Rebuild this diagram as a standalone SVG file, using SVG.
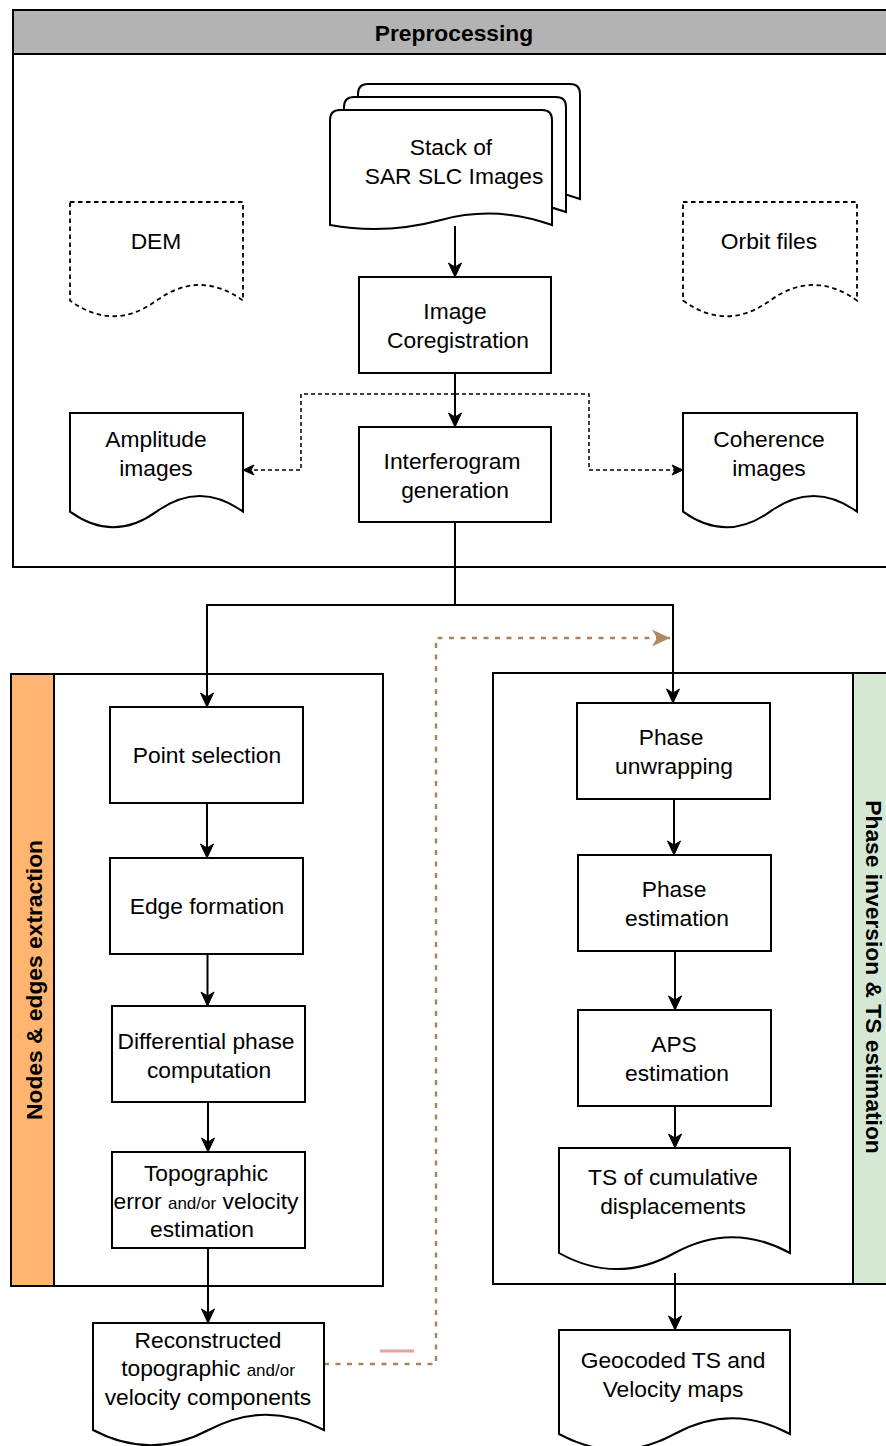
<svg xmlns="http://www.w3.org/2000/svg" width="886" height="1446" viewBox="0 0 886 1446">
<style>
.t{font-family:"Liberation Sans",Arial,Helvetica,sans-serif;font-size:22.8px;fill:#000;text-anchor:middle}
.b{font-weight:bold}
.s{font-size:17px}
.n{fill:#fff;stroke:#000;stroke-width:2}
.nd{fill:#fff;stroke:#000;stroke-width:1.8;stroke-dasharray:4.5 3.5}
.pan{fill:#fff;stroke:#000;stroke-width:2}
.c{fill:none;stroke:#000;stroke-width:2}
.cd{fill:none;stroke:#000;stroke-width:1.5;stroke-dasharray:4 3}
.cb{fill:none;stroke:#a9835c;stroke-width:2.4;stroke-dasharray:5 6.5}
</style>
<defs>
<marker id="arr" markerUnits="userSpaceOnUse" viewBox="0 0 16 16" refX="15" refY="8" markerWidth="16" markerHeight="16" orient="auto"><path d="M1,1.5 L15,8 L1,14.5 L5,8 Z" fill="#000" stroke="#000" stroke-width="1"/></marker>
<marker id="arrs" markerUnits="userSpaceOnUse" viewBox="0 0 13 13" refX="12" refY="6.5" markerWidth="13" markerHeight="13" orient="auto"><path d="M1,1.5 L12,6.5 L1,11.5 L4,6.5 Z" fill="#000" stroke="#000" stroke-width="1"/></marker>
<marker id="arrb" markerUnits="userSpaceOnUse" viewBox="0 0 18 18" refX="18" refY="9" markerWidth="18" markerHeight="18" orient="auto"><path d="M0,0.5 L18,9 L0,17.5 L5,9 Z" fill="#b08a63"/></marker>
</defs>

<g id="preprocessing-panel">
<rect class="pan" x="13" y="10" width="880" height="557"/>
<rect x="13" y="10" width="880" height="44" fill="#b3b3b3" stroke="#000" stroke-width="2"/>
<text class="t b" x="454" y="41">Preprocessing</text>
</g>

<g id="nodes-edges-panel">
<rect class="pan" x="11" y="674" width="372" height="612"/>
<rect x="11" y="674" width="43" height="612" fill="#ffb570" stroke="#000" stroke-width="2"/>
<text class="t b" transform="translate(34,980) rotate(-90)" x="0" y="8">Nodes &amp; edges extraction</text>
</g>

<g id="phase-inversion-panel">
<rect class="pan" x="493" y="673" width="400" height="611"/>
<rect x="853" y="673" width="40" height="611" fill="#d5e8d4" stroke="#000" stroke-width="2"/>
<text class="t b" transform="translate(874,977) rotate(90)" x="0" y="8">Phase inversion &amp; TS estimation</text>
</g>

<g id="connectors">
<path class="c" d="M455,226 L455,277" marker-end="url(#arr)"/>
<path class="c" d="M455,373 L455,427" marker-end="url(#arr)"/>
<path class="cd" d="M455,394 L301,394 L301,470 L243,470" marker-end="url(#arrs)"/>
<path class="cd" d="M455,394 L589,394 L589,470 L683,470" marker-end="url(#arrs)"/>
<path class="c" d="M455,522 L455,605 L207,605 L207,707" marker-end="url(#arr)"/>
<path class="c" d="M455,605 L673,605 L673,703" marker-end="url(#arr)"/>
<path class="c" d="M207,803 L207,858" marker-end="url(#arr)"/>
<path class="c" d="M207.5,954 L207.5,1006" marker-end="url(#arr)"/>
<path class="c" d="M208,1102 L208,1152" marker-end="url(#arr)"/>
<path class="c" d="M208,1248 L208,1323" marker-end="url(#arr)"/>
<path class="c" d="M674,799 L674,855" marker-end="url(#arr)"/>
<path class="c" d="M675,951 L675,1010" marker-end="url(#arr)"/>
<path class="c" d="M675,1106 L675,1148" marker-end="url(#arr)"/>
<path class="c" d="M675,1273 L675,1330" marker-end="url(#arr)"/>
<path class="cb" d="M324,1364 L436,1364 L436,638 L670,638" marker-end="url(#arrb)"/>
<path d="M380,1351 L414,1351" stroke="#eaa0a0" stroke-width="3" fill="none"/>
</g>

<g id="stack-sar">
<path class="n" d="M358,199 L358,94 Q358,84 368,84 L570,84 Q580,84 580,94 L580,199 Q524,179 469,194 Q413,209 358,199 Z"/>
<path class="n" d="M344,212 L344,107 Q344,97 354,97 L556,97 Q566,97 566,107 L566,212 Q510,192 455,207 Q399,222 344,212 Z"/>
<path class="n" d="M330,225 L330,120 Q330,110 340,110 L542,110 Q552,110 552,120 L552,225 Q496,205 441,220 Q385,235 330,225 Z"/>
<text class="t" x="451" y="155">Stack of</text>
<text class="t" x="454" y="184">SAR SLC Images</text>
</g>

<g id="dem">
<path class="nd" d="M70,202 L243,202 L243,300.6 Q199.75,269.3 156.5,300.6 Q113.25,331.9 70,300.6 Z"/>
<text class="t" x="156" y="249">DEM</text>
</g>

<g id="orbit-files">
<path class="nd" d="M683,202 L857,202 L857,300.6 Q813.5,269.3 770,300.6 Q726.5,331.9 683,300.6 Z"/>
<text class="t" x="769" y="249">Orbit files</text>
</g>

<g id="image-coregistration">
<rect class="n" x="359" y="277" width="192" height="96"/>
<text class="t" x="455" y="319">Image</text>
<text class="t" x="458" y="348">Coregistration</text>
</g>

<g id="amplitude-images">
<path class="n" d="M70,413 L243,413 L243,511.6 Q199.75,480.3 156.5,511.6 Q113.25,542.9 70,511.6 Z"/>
<text class="t" x="156" y="447">Amplitude</text>
<text class="t" x="156" y="476">images</text>
</g>

<g id="interferogram-generation">
<rect class="n" x="359" y="427" width="192" height="95"/>
<text class="t" x="452" y="469">Interferogram</text>
<text class="t" x="455" y="498">generation</text>
</g>

<g id="coherence-images">
<path class="n" d="M683,413 L857,413 L857,511.6 Q813.5,480.3 770,511.6 Q726.5,542.9 683,511.6 Z"/>
<text class="t" x="769" y="447">Coherence</text>
<text class="t" x="769" y="476">images</text>
</g>

<g id="point-selection">
<rect class="n" x="110" y="707" width="193" height="96"/>
<text class="t" x="207" y="763">Point selection</text>
</g>

<g id="edge-formation">
<rect class="n" x="110" y="858" width="193" height="96"/>
<text class="t" x="207" y="914">Edge formation</text>
</g>

<g id="differential-phase">
<rect class="n" x="112" y="1006" width="193" height="96"/>
<text class="t" x="206" y="1049">Differential phase</text>
<text class="t" x="209" y="1078">computation</text>
</g>

<g id="topographic-error">
<rect class="n" x="112" y="1152" width="193" height="96"/>
<text class="t" x="206" y="1181">Topographic</text>
<text class="t" x="206" y="1209">error <tspan class="s">and/or</tspan> velocity</text>
<text class="t" x="202" y="1237">estimation</text>
</g>

<g id="reconstructed-components">
<path class="n" d="M93,1323 L324,1323 L324,1430 Q266,1399.4 208.5,1430 Q151,1460.6 93,1430 Z"/>
<text class="t" x="208" y="1348">Reconstructed</text>
<text class="t" x="208" y="1376">topographic <tspan class="s">and/or</tspan></text>
<text class="t" x="208" y="1405">velocity components</text>
</g>

<g id="phase-unwrapping">
<rect class="n" x="577" y="703" width="193" height="96"/>
<text class="t" x="671" y="745">Phase</text>
<text class="t" x="674" y="774">unwrapping</text>
</g>

<g id="phase-estimation">
<rect class="n" x="578" y="855" width="193" height="96"/>
<text class="t" x="674" y="897">Phase</text>
<text class="t" x="677" y="926">estimation</text>
</g>

<g id="aps-estimation">
<rect class="n" x="578" y="1010" width="193" height="96"/>
<text class="t" x="674" y="1052">APS</text>
<text class="t" x="677" y="1081">estimation</text>
</g>

<g id="ts-cumulative">
<path class="n" d="M559,1148 L790,1148 L790,1253 Q732,1221.3 674.5,1253 Q617,1285.2 559,1253 Z"/>
<text class="t" x="673" y="1185">TS of cumulative</text>
<text class="t" x="673" y="1214">displacements</text>
</g>

<g id="geocoded-maps">
<path class="n" d="M559,1330 L790,1330 L790,1434 Q732,1402.5 674.5,1434 Q617,1465.5 559,1434 Z"/>
<text class="t" x="673" y="1368">Geocoded TS and</text>
<text class="t" x="673" y="1397">Velocity maps</text>
</g>
</svg>
